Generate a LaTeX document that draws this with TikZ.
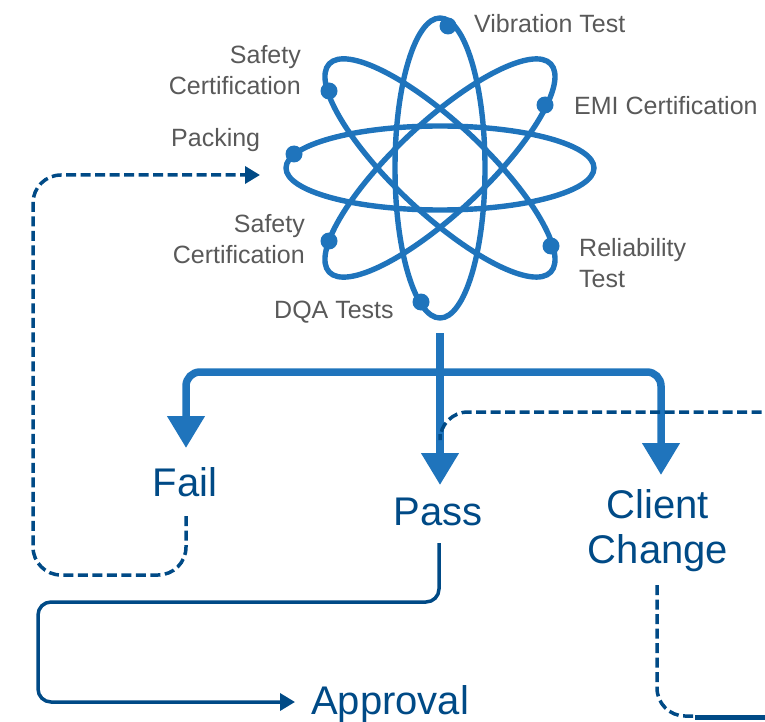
\documentclass[tikz,border=0pt]{standalone}
\usepackage{fontspec}
\setmainfont{Liberation Sans}
\usetikzlibrary{arrows.meta}
\definecolor{atomblue}{HTML}{1F74BC}
\definecolor{navy}{HTML}{004A86}
\definecolor{greytext}{HTML}{595959}
\tikzset{
  orbit/.style={draw=atomblue,line width=5.4pt},
  electron/.style={fill=atomblue},
  lab/.style={text=greytext,font=\fontsize{25}{31}\selectfont,align=left,inner sep=0pt},
  labr/.style={text=greytext,font=\fontsize{25}{31}\selectfont,align=right,inner sep=0pt},
  big/.style={text=navy,font=\fontsize{40}{45}\selectfont,align=center,inner sep=0pt},
  bigflow/.style={draw=atomblue,line width=7.5pt,rounded corners=14pt},
  bighead/.style={-{Triangle[length=32pt,width=36pt,fill=atomblue]}},
  navyline/.style={draw=navy,line width=3.5pt,rounded corners=13pt},
  navydash/.style={draw=navy,line width=3.5pt,dash pattern=on 10pt off 4.5pt,rounded corners=28pt},
  smallhead/.style={-{Triangle[length=15pt,width=17pt,fill=navy]}}
}
\begin{document}
\begin{tikzpicture}[x=1pt,y=-1pt]
\useasboundingbox (0,0) rectangle (765,722);
% atom
\coordinate (c) at (440,168);
\draw[orbit] (c) ellipse [x radius=154,y radius=42];
\draw[orbit] (c) ellipse [x radius=45,y radius=150];
\draw[orbit,rotate around={43.2:(c)}] (c) ellipse [x radius=152,y radius=45];
\draw[orbit,rotate around={-43.2:(c)}] (c) ellipse [x radius=152,y radius=45];
\foreach \p in {(448,26),(545,105),(551,246),(421,302),(329,241),(329,91),(294,154)}
  \fill[electron] \p circle (8.5);
% grey labels
\node[lab,anchor=west] (vib) at (474,24) {Vibration Test};
\node[lab,anchor=west] (emi) at (574,106) {EMI Certification};
\node[lab,anchor=west] (rel) at (579,263) {Reliability\\Test};
\node[labr,anchor=east] (saf1) at (301,70) {Safety\\Certification};
\node[labr,anchor=east] (saf2) at (305,239) {Safety\\Certification};
\node[lab,anchor=west] (pack) at (171,140) {Packing};
\node[lab,anchor=west] (dqa) at (274,312) {DQA Tests};
% outcome labels
\node[big] (fail) at (185,482) {Fail};
\node[big] (pass) at (438,512) {Pass};
\node[big] (client) at (658,531) {Client\\Change};
\node[big,anchor=west] (appr) at (311,704) {Approval};
% free ends
\coordinate (root) at (440,333);
\coordinate (bar) at (440,372);
\coordinate (failtip) at (186,448);
\coordinate (passtip) at (440,485);
\coordinate (clienttip) at (661,475);
\coordinate (packin) at (260,175);
\coordinate (apprin) at (295,702);
\coordinate (clientend) at (765,717);
\coordinate (rightend) at (765,412);
\coordinate (passjoin) at (440,434);
\coordinate (failout) at (186,516);
\coordinate (passout) at (439,543);
\coordinate (clientout) at (657,585);
% thick blue tree
\draw[bigflow,bighead] (root) -- (passtip);
\draw[bigflow,bighead] (bar) -- (186,372) -- (failtip);
\draw[bigflow,bighead] (bar) -- (661,372) -- (clienttip);
% dashed connectors
\draw[navydash] (passjoin) -- (440,412) -- (rightend);
\draw[navydash,smallhead] (failout) -- (186,575) -- (33,575) -- (33,175) -- (packin);
\draw[navydash] (clientout) -- (657,716) -- (695,716);
\draw[draw=navy,line width=5pt] (695,717) -- (clientend);
% solid navy
\draw[navyline,smallhead] (passout) -- (439,602) -- (38,602) -- (38,702) -- (apprin);
\end{tikzpicture}
\end{document}
